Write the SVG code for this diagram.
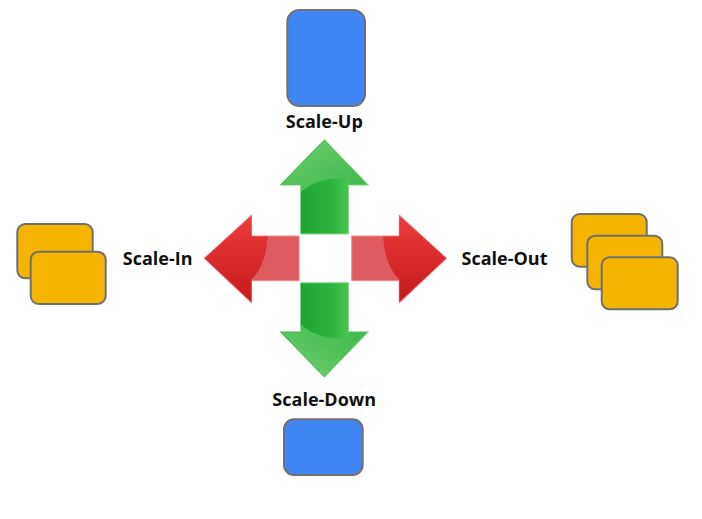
<svg xmlns="http://www.w3.org/2000/svg" width="702" height="519" viewBox="0 0 702 519">
<style>
.lbl{font-family:"Open Sans","Liberation Sans",sans-serif;font-weight:bold;font-size:18px;fill:#111;text-anchor:middle}
.blue{fill:#3f86f4;stroke:#707070;stroke-width:2}
.orange{fill:#f4b400;stroke:#707070;stroke-width:2}
</style>
<defs>
<linearGradient id="gShaft" x1="0" y1="0" x2="1" y2="0">
<stop offset="0" stop-color="#12992a"/><stop offset="0.6" stop-color="#2fb53e"/><stop offset="1" stop-color="#66d966"/>
</linearGradient>
<linearGradient id="gHead" x1="0" y1="0" x2="1" y2="1">
<stop offset="0" stop-color="#6fd06f"/><stop offset="1" stop-color="#3cb54a"/>
</linearGradient>
<linearGradient id="rHead" x1="0" y1="0" x2="0" y2="1">
<stop offset="0" stop-color="#ec3b3b"/><stop offset="1" stop-color="#c51a1a"/>
</linearGradient>
<g id="upArrow">
<path d="M324.3,139.5 L368.5,185 L348.5,185 L348.5,234 L300.5,234 L300.5,185 L280,185 Z" fill="url(#gShaft)" stroke="#8ad88a" stroke-width="1"/>
<path d="M324.3,140.5 L367,184.5 L348.5,184.5 L348.5,179 Q320,176 301,192 L301,184.5 L281.5,184.5 Z" fill="url(#gHead)"/>
</g>
<g id="rightArrow">
<path d="M351.7,236 L399.3,236 L399.3,215 L446.7,258.3 L399.3,303 L399.3,280.7 L351.7,280.7 Z" fill="#de5b60" stroke="#ef8c8c" stroke-width="1"/>
<path d="M383,236.5 L399.3,236.5 L399.3,216 L446,258.3 L399.3,302 L399.3,280.2 L400,280.2 Q385,266 383,236.5 Z" fill="url(#rHead)"/>
</g>
</defs>
<g id="connectors">
<use href="#upArrow"/>
<use href="#upArrow" transform="translate(0,516.8) scale(1,-1)"/>
<use href="#rightArrow"/>
<use href="#rightArrow" transform="translate(650.8,0) scale(-1,1)"/>
</g>
<g id="scale-up">
<rect class="blue" x="287.3" y="10" width="77.7" height="96" rx="12"/>
<text class="lbl" x="324.3" y="128">Scale-Up</text>
</g>
<g id="scale-down">
<text class="lbl" x="324.2" y="406">Scale-Down</text>
<rect class="blue" x="284" y="419.3" width="78.7" height="55.7" rx="10"/>
</g>
<g id="scale-in">
<rect class="orange" x="17.3" y="224" width="75.4" height="54.3" rx="8"/>
<rect class="orange" x="30.7" y="251.7" width="75" height="52.3" rx="8"/>
<text class="lbl" x="157.7" y="265">Scale-In</text>
</g>
<g id="scale-out">
<text class="lbl" x="504.5" y="265">Scale-Out</text>
<rect class="orange" x="571.7" y="214" width="75" height="52.7" rx="8"/>
<rect class="orange" x="587.3" y="235.7" width="75" height="53.6" rx="8"/>
<rect class="orange" x="601.7" y="257.3" width="76" height="52" rx="8"/>
</g>
</svg>
